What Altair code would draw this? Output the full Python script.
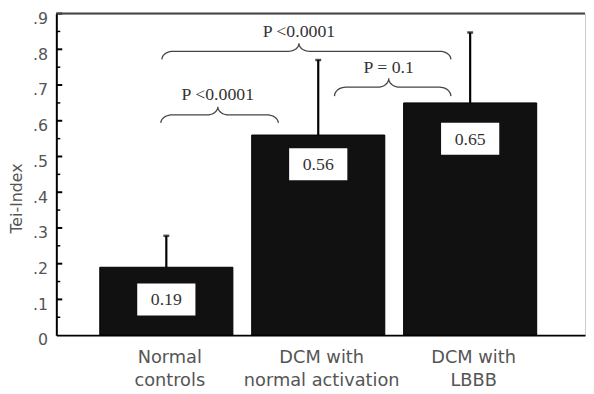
import math
import altair as alt
import pandas as pd

# ---- data ----
categories = ["Normal controls", "DCM with normal activation", "DCM with LBBB"]
label_lines = [["Normal", "controls"], ["DCM with", "normal activation"], ["DCM with", "LBBB"]]
positions = [1, 2, 3]
means = [0.19, 0.56, 0.65]
errors = [0.088, 0.21, 0.197]
value_labels = ["0.19", "0.56", "0.65"]
label_y = [0.10, 0.478, 0.55]

y_ticks = [0.0, 0.1, 0.2, 0.3, 0.4, 0.5, 0.6, 0.7, 0.8, 0.9]
minor_ticks = [0.05, 0.15, 0.25, 0.35, 0.45, 0.55, 0.65, 0.75, 0.85]

# significance brackets (x in category units, y in Tei-Index units)
p_texts = ["P <0.0001", "P = 0.1", "P <0.0001"]
br_x0 = [0.964, 2.107, 0.971]
br_x1 = [1.737, 2.873, 2.873]
br_tip = [1.339, 2.464, 1.873]
br_end = [0.594, 0.669, 0.772]
br_tipy = [0.639, 0.719, 0.817]
p_text_y = [0.672, 0.747, 0.847]

W, H = 536, 326
HALF = 0.438
SERIF = "Liberation Serif"
SANS = "DejaVu Sans"

bars = pd.DataFrame({
    "cat": categories, "pos": positions, "mean": means, "err": errors,
    "lab": value_labels, "laby": label_y,
})
bars["x1"] = bars["pos"] - HALF
bars["x2"] = bars["pos"] + HALF
bars["zero"] = 0.0
bars["top"] = bars["mean"] + bars["err"]

# brace geometry
rows = []
for b in range(3):
    x0, x1, xt = br_x0[b], br_x1[b], br_tip[b]
    ye, yt = br_end[b], br_tipy[b]
    ry = (yt - ye) / 2
    rx_e, rx_t = 0.075, 0.07
    segs = [
        (x0 + rx_e, ye, rx_e, math.pi, math.pi / 2),
        (xt - rx_t, yt, rx_t, -math.pi / 2, 0.0),
        (xt + rx_t, yt, rx_t, math.pi, 1.5 * math.pi),
        (x1 - rx_e, ye, rx_e, math.pi / 2, 0.0),
    ]
    i = 0
    for cx, cy, rx, a0, a1 in segs:
        n = 10
        for k in range(n + 1):
            t = a0 + (a1 - a0) * k / n
            rows.append({"b": b, "i": i, "x": cx + rx * math.cos(t), "y": cy + ry * math.sin(t)})
            i += 1
braces = pd.DataFrame(rows)
ptext = pd.DataFrame({"t": p_texts, "x": br_tip, "y": p_text_y})
ticks_df = pd.DataFrame({"v": y_ticks[1:]})
minor_df = pd.DataFrame({"v": minor_ticks})

xs = alt.Scale(domain=[0.276, 3.756], nice=False, zero=False)
ys = alt.Scale(domain=[0, 0.9], nice=False)

lab_expr = "[" + ",".join("[" + ",".join("'" + s + "'" for s in l) + "]" for l in label_lines) + "][datum.value - 1]"

x_axis = alt.Axis(values=positions, labelExpr=lab_expr, title=None, ticks=False,
                  labelFont=SANS, labelFontSize=18, labelColor="#555", labelLineHeight=23,
                  labelPadding=14, labelOffset=3, domainColor="#000", domainWidth=2, grid=False,
                  labelOverlap=False)
y_axis = alt.Axis(values=y_ticks, labelExpr="datum.value == 0 ? '0' : substring(format(datum.value, '.1f'), 1)",
                  title="Tei-Index", titleFont=SANS, titleFontSize=16, titleColor="#555",
                  titleFontWeight="normal", titleX=-40, titleY=187, titleBaseline="middle",
                  ticks=False, labelFont=SANS, labelFontSize=16, labelColor="#555",
                  labelPadding=9, labelOffset=5, domainColor="#000", domainWidth=2, grid=False,
                  labelOverlap=False, labelFlush=False)


def X(f):
    return alt.X(f, scale=xs, axis=x_axis)


def Y(f):
    return alt.Y(f, scale=ys, axis=y_axis)


base = alt.Chart(bars)
bar_layer = base.mark_bar(color="#111", stroke="#000", strokeWidth=1).encode(
    x=X("x1:Q"), x2="x2:Q", y=Y("zero:Q"), y2="mean:Q")
err_layer = base.mark_rule(color="#000", strokeWidth=2.2).encode(
    x=X("pos:Q"), y=Y("mean:Q"), y2="top:Q")
cap_layer = base.mark_tick(color="#000", orient="horizontal", size=6, thickness=2.5).encode(
    x=X("pos:Q"), y=Y("top:Q"))
box_layer = base.mark_point(shape="M-1,-0.55L1,-0.55L1,0.55L-1,0.55Z", filled=True,
                            fill="#fff", opacity=1, size=3481, strokeWidth=0).encode(
    x=X("pos:Q"), y=Y("laby:Q"))
val_layer = base.mark_text(font=SERIF, fontSize=18, color="#333", baseline="middle", dy=1).encode(
    x=X("pos:Q"), y=Y("laby:Q"), text="lab:N")
brace_layer = alt.Chart(braces).mark_line(color="#444", strokeWidth=1.3).encode(
    x=X("x:Q"), y=Y("y:Q"), detail="b:N", order="i:Q")
p_layer = alt.Chart(ptext).mark_text(font=SERIF, fontSize=18, color="#333", baseline="middle").encode(
    x=X("x:Q"), y=Y("y:Q"), text="t:N")
major_layer = alt.Chart(ticks_df).mark_rule(color="#000", strokeWidth=2).encode(
    y=Y("v:Q"), x=alt.value(0), x2=alt.value(6))
minor_layer = alt.Chart(minor_df).mark_rule(color="#000", strokeWidth=1.5).encode(
    y=Y("v:Q"), x=alt.value(0), x2=alt.value(4))
top_layer = alt.Chart(pd.DataFrame({"v": [0.9]})).mark_rule(color="#444", strokeWidth=2).encode(
    y=Y("v:Q"), x=alt.value(0), x2=alt.value(W))

chart = alt.layer(bar_layer, err_layer, cap_layer, box_layer, val_layer, brace_layer, p_layer,
                  major_layer, minor_layer, top_layer).properties(
    width=W, height=H,
    autosize=alt.AutoSizeParams(type="none"),
    padding={"left": 49, "top": 3, "right": 1, "bottom": 56},
    background="#fff",
).configure_view(stroke="#ccc", strokeWidth=1)

chart.save("out.html", embed_options={"renderer": "svg", "actions": False})
